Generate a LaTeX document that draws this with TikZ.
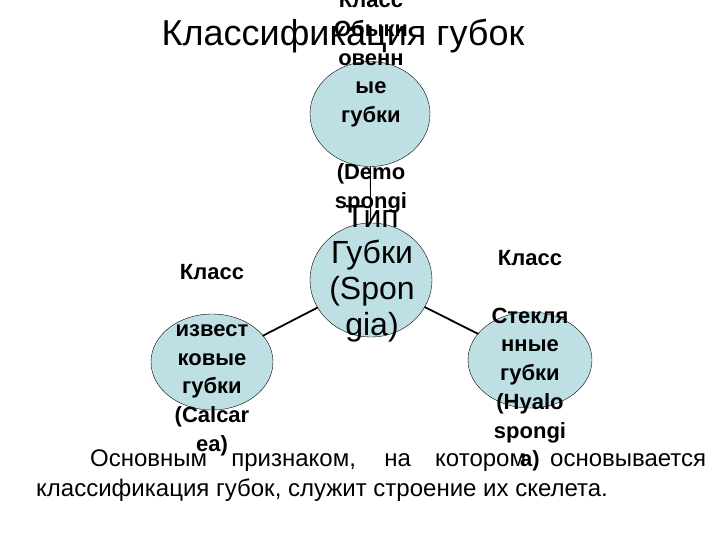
\documentclass[tikz,border=0pt]{standalone}
\usepackage{fontspec}
\setmainfont{Liberation Sans}
\usetikzlibrary{shapes.geometric}
\definecolor{spongeblue}{RGB}{190,224,228}

\begin{document}
\begin{tikzpicture}
      [x=1pt,y=-1pt,line cap=round,line join=round,
       cell/.style={ellipse,draw=black,thin,fill=spongeblue,inner sep=0pt},
       lbl/.style={align=center,inner sep=0pt,font=\bfseries\fontsize{22}{28.7}\selectfont},
       link/.style={draw=black}]
  \useasboundingbox (0,0) rectangle (720,540);

%title
  \node (title) at (343,36) {\fontsize{36}{40}\selectfont Классификация губок};

%the four cells
  \node[cell,minimum width=120pt,minimum height=105pt] (demo) at (370,114) {};
  \node[cell,minimum width=122pt,minimum height=114pt] (phylum) at (371,280) {};
  \node[cell,minimum width=122pt,minimum height=96pt] (calc) at (212,362) {};
  \node[cell,minimum width=124pt,minimum height=96pt] (hyalo) at (530,360) {};

%class labels
  \node[lbl] (demotext) at (371,103) {Класс\\Обыкн\\овенн\\ые\\губки\\ \\(Demo\\spongi};
  \node[lbl] (calctext) at (212,360) {Класс\\ \\извест\\ковые\\губки\\(Calcar\\ea)};
  \node[lbl] (hyalotext) at (530,361) {Класс\\ \\Стекля\\нные\\губки\\(Hyalo\\spongi\\a)};
  \node[align=center,inner sep=0pt,font=\fontsize{32}{36}\selectfont] (phylumtext) at (372,274) {Тип\\Губки\\(Spon\\gia)};

%connectors
  \draw[link,line width=0.9pt] (demo) -- (phylum);
  \draw[link,line width=1.8pt] (calc) -- (phylum);
  \draw[link,line width=1.8pt] (phylum) -- (hyalo);

%note below
  \node[anchor=north west,text width=670pt,align=justify,inner sep=0pt,
        font=\fontsize{24}{30}\selectfont] (note) at (36,450)
   {\hspace*{54pt}Основным признаком, на котором основывается\linebreak классификация губок, служит строение их скелета.};

\end{tikzpicture}
\end{document}
